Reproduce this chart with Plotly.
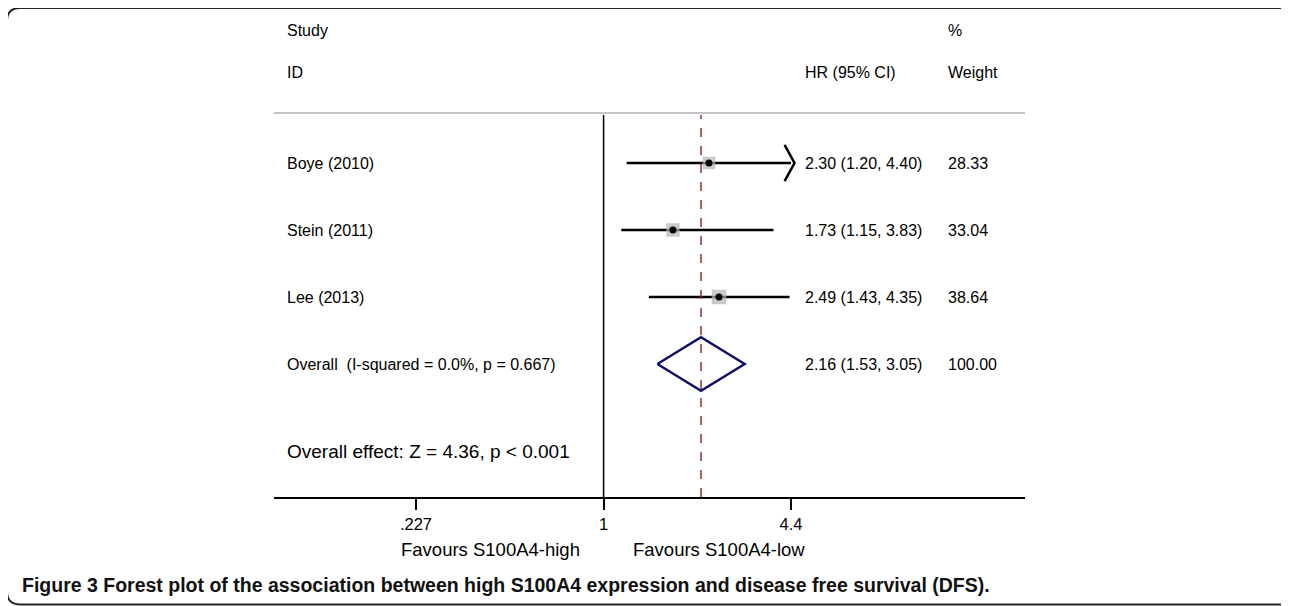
import math
import plotly.graph_objects as go

# ---- data ----
studies = ["Boye (2010)", "Stein (2011)", "Lee (2013)"]
hr = [2.30, 1.73, 2.49]
ci_low = [1.20, 1.15, 1.43]
ci_high = [4.40, 3.83, 4.35]
weights = [28.33, 33.04, 38.64]
overall_label = "Overall  (I-squared = 0.0%, p = 0.667)"
overall_hr = 2.16
overall_low = 1.53
overall_high = 3.05
overall_weight = 100.00
overall_effect = "Overall effect: Z = 4.36, p < 0.001"
tick_vals = [0.227, 1, 4.4]
tick_text = [".227", "1", "4.4"]
favours_left = "Favours S100A4-high"
favours_right = "Favours S100A4-low"
caption_bold = "Figure 3"
caption_rest = "Forest plot of the association between high S100A4 expression and disease free survival (DFS)."

FONT = "Liberation Sans, Arial, sans-serif"
OFF = 8  # page body margin
W, H = 1289 - OFF, 606 - OFF
L, R, T, B = 274, 1025, 113, 497

xmax_clip = max(tick_vals)
fig = go.Figure()

rows = list(range(1, len(studies) + 1))

for i, r in enumerate(rows):
    hi = min(ci_high[i], xmax_clip)
    fig.add_trace(go.Scatter(x=[ci_low[i], hi], y=[r, r], mode="lines",
                             line=dict(color="black", width=2.5),
                             hoverinfo="skip", showlegend=False))
    if ci_high[i] >= xmax_clip - 1e-9:
        apex = hi * 10 ** 0.012
        back = hi / 10 ** 0.022
        fig.add_trace(go.Scatter(x=[back, apex, back], y=[r - 0.27, r, r + 0.27],
                                 mode="lines", line=dict(color="black", width=2.5),
                                 hoverinfo="skip", showlegend=False))

fig.add_trace(go.Scatter(x=hr, y=rows, mode="markers",
                         marker=dict(symbol="square", color="#b4b4b4",
                                     size=[2.35 * math.sqrt(w) for w in weights],
                                     line=dict(width=0)),
                         hoverinfo="skip", showlegend=False))
fig.add_trace(go.Scatter(x=hr, y=rows, mode="markers",
                         marker=dict(symbol="circle", color="black", size=7),
                         hoverinfo="skip", showlegend=False))

orow = len(studies) + 1
fig.add_trace(go.Scatter(x=[overall_low, overall_hr, overall_high, overall_hr, overall_low],
                         y=[orow, orow - 0.4, orow, orow + 0.4, orow],
                         mode="lines", line=dict(color="#10106a", width=2.5),
                         hoverinfo="skip", showlegend=False))

fig.add_shape(type="line", xref="x", yref="paper", x0=1, x1=1, y0=0, y1=0.995,
              line=dict(color="black", width=1.5))
fig.add_shape(type="line", xref="x", yref="paper", x0=overall_hr, x1=overall_hr, y0=0, y1=0.995,
              line=dict(color="#9b2d30", width=1.5, dash="dash"))
fig.add_shape(type="line", xref="paper", yref="paper", x0=0, x1=1, y0=1, y1=1,
              line=dict(color="#c4c4c4", width=2))

def px2paper_x(px):
    return (px - L) / (R - L)

def px2paper_y(py):
    return (B - py) / (B - T)

PAD = 2  # annotation inner padding
ann = []
def txt(text, px, py, size=16, xanchor="left", font=FONT, color="black"):
    if xanchor == "left":
        px -= PAD
    ann.append(dict(text=text, x=px2paper_x(px), y=px2paper_y(py), xref="paper", yref="paper",
                    xanchor=xanchor, yanchor="middle", showarrow=False,
                    font=dict(family=font, size=size, color=color)))

def rowtxt(text, px, r, size=16):
    ann.append(dict(text=text, x=px2paper_x(px - PAD), y=r, xref="paper", yref="y",
                    xanchor="left", yanchor="middle", showarrow=False,
                    font=dict(family=FONT, size=size, color="black")))

txt("Study", 287, 31)
txt("ID", 287, 72)
txt("HR (95% CI)", 805, 72)
txt("%", 948, 31)
txt("Weight", 948, 72)

for i, r in enumerate(rows):
    rowtxt(studies[i], 287, r)
    rowtxt(f"{hr[i]:.2f} ({ci_low[i]:.2f}, {ci_high[i]:.2f})", 805, r)
    rowtxt(f"{weights[i]:.2f}", 948, r)
rowtxt(overall_label, 287, orow)
rowtxt(f"{overall_hr:.2f} ({overall_low:.2f}, {overall_high:.2f})", 805, orow)
rowtxt(f"{overall_weight:.2f}", 948, orow)
txt(overall_effect, 287, 451, size=19)

txt(favours_left, 490, 549, size=18.5, xanchor="center")
txt(favours_right, 719, 549, size=18.5, xanchor="center")

txt(f"<b>{caption_bold} {caption_rest}</b>", 22, 585, size=19.5, color="#111111")

# rounded border
x0, x1 = px2paper_x(7), px2paper_x(1292)
y0, y1 = px2paper_y(8), px2paper_y(604.5)
rx = 13 / (R - L)
ry = 13 / (B - T)
path = (f"M {x0+rx},{y0} L {x1-rx},{y0} Q {x1},{y0} {x1},{y0-ry} L {x1},{y1+ry} "
        f"Q {x1},{y1} {x1-rx},{y1} L {x0+rx},{y1} Q {x0},{y1} {x0},{y1+ry} L {x0},{y0-ry} Q {x0},{y0} {x0+rx},{y0} Z")
fig.add_shape(type="path", xref="paper", yref="paper", path=path,
              line=dict(color="#222222", width=2))

lo = math.log10(min(tick_vals)) - (416 - L) / 291.3
hi_r = math.log10(max(tick_vals)) + (R - 791) / 291.3

fig.update_layout(
    width=W, height=H,
    margin=dict(l=L - OFF, r=1289 - R, t=T - OFF, b=606 - B, pad=0),
    paper_bgcolor="white", plot_bgcolor="white",
    annotations=ann,
    xaxis=dict(type="log", range=[lo, hi_r], tickvals=tick_vals, ticktext=tick_text,
               showgrid=False, zeroline=False, showline=True, linecolor="black", linewidth=1.5,
               ticks="outside", ticklen=11, tickwidth=1.5, tickcolor="black",
               tickfont=dict(family=FONT, size=16.5, color="black")),
    yaxis=dict(range=[1 + (B - 163) / 67, 1 + (T - 163) / 67], showgrid=False, zeroline=False,
               showticklabels=False, showline=False, ticks=""),
)

fig.write_html("out.html")
